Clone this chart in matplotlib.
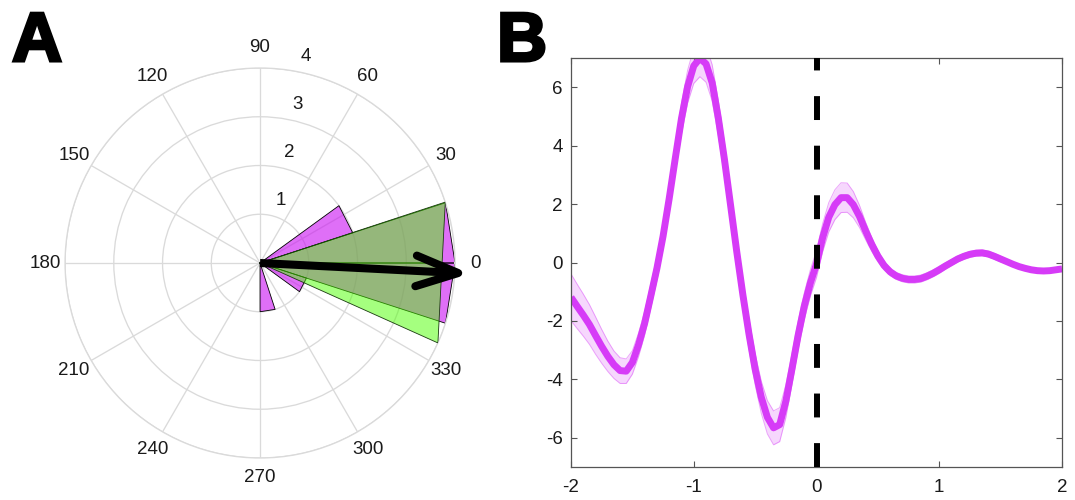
import numpy as np
import matplotlib
matplotlib.use("Agg")
import matplotlib.pyplot as plt
import matplotlib.patheffects as pe

plt.rcParams['font.family'] = ['Liberation Sans', 'DejaVu Sans']
plt.rcParams['axes.unicode_minus'] = False

# ---------------- Panel A data (polar histogram) ----------------
bin_width_deg = 18
mag_bin_starts_deg = [0, 18, 270, 324, 342]
mag_counts = [4, 2, 1, 1, 4]
green_span_deg = [-24.2, 18.2]
green_length = [4.0, 4.0]
mean_angle_deg = -2.9
mean_length = 4.07
theta_tick_deg = list(range(0, 360, 30))
r_ticks = [1, 2, 3, 4]

# ---------------- Panel B data (mean trace +/- sem) ----------------
t_vals = np.linspace(-2, 2, 81)
mean_vals = [
    -1.19, -1.50, -1.80, -2.12, -2.50, -2.87, -3.21, -3.50, -3.70, -3.72,
    -3.42, -2.82, -2.08, -1.15, -0.20, 0.90, 2.19, 3.58, 4.93, 6.02,
    6.73, 6.99, 6.80, 6.15, 4.95, 3.53, 1.96, 0.38, -1.10, -2.45,
    -3.65, -4.61, -5.30, -5.66, -5.55, -4.75, -3.65, -2.50, -1.50, -0.70,
    -0.05, 0.85, 1.55, 1.98, 2.22, 2.22, 1.98, 1.58, 1.08, 0.62,
    0.22, -0.10, -0.32, -0.46, -0.54, -0.58, -0.58, -0.55, -0.47, -0.37,
    -0.25, -0.12, 0.00, 0.12, 0.21, 0.28, 0.32, 0.33, 0.29, 0.21,
    0.12, 0.03, -0.06, -0.14, -0.20, -0.25, -0.28, -0.29, -0.28, -0.25,
    -0.22]
sem_vals = [
    0.80, 0.76, 0.72, 0.68, 0.64, 0.58, 0.52, 0.47, 0.44, 0.42,
    0.40, 0.40, 0.40, 0.40, 0.40, 0.42, 0.45, 0.48, 0.52, 0.56,
    0.60, 0.63, 0.63, 0.62, 0.60, 0.57, 0.55, 0.53, 0.52, 0.52,
    0.53, 0.55, 0.57, 0.58, 0.58, 0.56, 0.52, 0.48, 0.45, 0.45,
    0.46, 0.48, 0.50, 0.51, 0.51, 0.50, 0.45, 0.38, 0.30, 0.24,
    0.19, 0.15, 0.13, 0.12, 0.12, 0.12, 0.12, 0.12, 0.12, 0.12,
    0.12, 0.11, 0.10, 0.10, 0.10, 0.10, 0.10, 0.10, 0.10, 0.10,
    0.10, 0.08, 0.07, 0.07, 0.07, 0.07, 0.07, 0.07, 0.07, 0.07,
    0.07]
x_ticks = [-2, -1, 0, 1, 2]
y_ticks = [-6, -4, -2, 0, 2, 4, 6]
event_time = 0

# ---------------- styles ----------------
MAG_BAR = '#CA0FF2'
GREEN = '#4DFF01'
GRID = '#dadada'
LINE_MAG = '#D63BF7'
TXT = '#1a1a1a'
FS = 13.5

fig = plt.figure(figsize=(10.75, 5.0), dpi=100)

# ================= Panel A =================
axp = fig.add_axes([0.0605, 0.084, 0.3628, 0.78], projection='polar')
axp.set_theta_zero_location('E')
axp.set_theta_direction(1)
axp.set_rlim(0, 4)
axp.set_thetagrids(theta_tick_deg, labels=[str(d) for d in theta_tick_deg])
axp.set_rgrids(r_ticks, labels=['' for _ in r_ticks])
axp.grid(True, color=GRID, linewidth=0.95)
axp.spines['polar'].set_color(GRID)
axp.spines['polar'].set_linewidth(0.95)
axp.tick_params(axis='x', pad=7.4, length=0, labelsize=FS, labelcolor=TXT)
axp.tick_params(axis='y', length=0)
axp.set_axisbelow(True)

for start, cnt in zip(mag_bin_starts_deg, mag_counts):
    th = np.deg2rad([0, start, start + bin_width_deg, 0])
    axp.fill(th, [0, cnt, cnt, 0], facecolor=MAG_BAR, alpha=0.6,
             edgecolor='none', zorder=2)
    axp.plot(th, [0, cnt, cnt, 0], color='black', linewidth=0.6, zorder=2.1)

gth = np.deg2rad([0, green_span_deg[0], green_span_deg[1], 0])
gr = [0, green_length[0], green_length[1], 0]
axp.fill(gth, gr, facecolor=GREEN, alpha=0.5, edgecolor='none', zorder=3)
axp.plot(gth, gr, color='#1a3a10', linewidth=0.6, zorder=3.1)

# mean resultant vector as arrow
phi = np.deg2rad(mean_angle_deg)
tip = mean_length * np.array([np.cos(phi), np.sin(phi)])
head_len = 0.92
head_ang = np.deg2rad(20)
barbs = []
for s in (-1, 1):
    a = phi + np.pi + s * head_ang
    barbs.append(tip + head_len * np.array([np.cos(a), np.sin(a)]))
pts = [barbs[0], tip, barbs[1]]
h_th = [np.arctan2(p[1], p[0]) for p in pts]
h_r = [np.hypot(p[0], p[1]) for p in pts]
axp.plot([phi, phi], [0, mean_length], color='black', linewidth=5.8,
         solid_capstyle='butt', zorder=5, clip_on=False)
axp.plot(h_th, h_r, color='black', linewidth=5.8, solid_capstyle='round',
         solid_joinstyle='round', zorder=5, clip_on=False)

for r in r_ticks:
    axp.annotate(str(r), xy=(np.deg2rad(80), r), xytext=(5.0, 4.5),
                 textcoords='offset points', ha='left', va='bottom',
                 fontsize=FS, color=TXT, zorder=6)

# ================= Panel B =================
ax = fig.add_axes([571 / 1075, 1 - 467 / 500, (1062 - 571) / 1075, (467 - 58) / 500])
m = np.array(mean_vals)
s = np.array(sem_vals)
ax.fill_between(t_vals, m - s, m + s, color=LINE_MAG, alpha=0.2, linewidth=0, zorder=1)
ax.plot(t_vals, m + s, color=LINE_MAG, alpha=0.45, linewidth=0.7, zorder=1.5)
ax.plot(t_vals, m - s, color=LINE_MAG, alpha=0.45, linewidth=0.7, zorder=1.5)
ax.plot(t_vals, m, color=LINE_MAG, linewidth=5.0, zorder=2,
        solid_capstyle='butt', solid_joinstyle='round')
ax.plot([event_time, event_time], [-7, 7], color='black', linewidth=4.3,
        linestyle=(0, (4.0, 4.3)), dash_capstyle='butt', zorder=3)
ax.set_xlim(-2, 2)
ax.set_ylim(-7, 7)
ax.set_xticks(x_ticks)
ax.set_xticklabels([str(v) for v in x_ticks])
ax.set_yticks(y_ticks)
ax.set_yticklabels([str(v) for v in y_ticks])
ax.tick_params(direction='in', length=4, width=0.8, color='#555555',
               top=True, right=True, labelsize=FS, labelcolor=TXT)
ax.tick_params(axis='x', pad=9)
ax.tick_params(axis='y', pad=6)
for sp in ax.spines.values():
    sp.set_color('#555555')
    sp.set_linewidth(0.9)

# panel letters
for xpx, letter in [(12, 'A'), (497, 'B')]:
    fig.text(xpx / 1075, 1 - 61 / 500, letter, fontsize=50, fontweight='bold',
             ha='left', va='baseline', color='black',
             path_effects=[pe.withStroke(linewidth=2.2, foreground='black',
                                         joinstyle='miter')])

fig.savefig('out.png', dpi=100)
